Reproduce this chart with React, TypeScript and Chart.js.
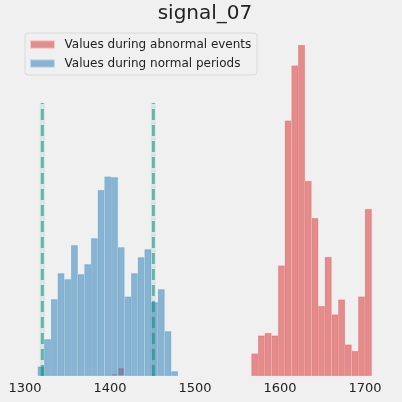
import React, { useEffect, useRef } from "react";
import { Chart, registerables } from "chart.js";

Chart.register(...registerables);

const TITLE = "signal_07";
const LEGEND_LABELS = ["Values during abnormal events", "Values during normal periods"];

// shared histogram bins (50 bins over the combined range)
const BIN_START = 1314.9;
const BIN_WIDTH = 7.858;

const NORMAL_BINS = [0, 1, 2, 3, 4, 5, 6, 7, 8, 9, 10, 11, 12, 13, 14, 15, 16, 17, 18, 19, 20];
const NORMAL_VALUES = [9.3, 36.7, 76.7, 102.7, 96.7, 130.7, 101.7, 111.7, 137.7, 186, 199.3, 198.7, 128.7, 79.3, 102.7, 118.7, 126.7, 73.7, 86.7, 44.7, 4.7];

const ABNORMAL_BINS = [11, 12, 32, 33, 34, 35, 36, 37, 38, 39, 40, 41, 42, 43, 44, 45, 46, 47, 48, 49];
const ABNORMAL_VALUES = [1.7, 7.7, 22.3, 40.3, 43, 40.3, 110.3, 255.3, 310.3, 331, 195, 158, 70, 119, 61.3, 76.3, 31.3, 25, 79.3, 167];

const THRESHOLDS = [1320.4, 1451.0];
const THRESHOLD_TOP = 273;

const X_TICKS = [1300, 1400, 1500, 1600, 1700];
const X_MIN = 1295.3;
const X_MAX = 1728.2;
const Y_MAX = 350;

const RED_FILL = "rgba(214,39,40,0.5)";
const BLUE_FILL = "rgba(31,119,180,0.5)";
const RED_EDGE = "rgba(246,202,202,0.95)";
const BLUE_EDGE = "rgba(200,221,236,0.95)";
const FONT = "'DejaVu Sans', 'Liberation Sans', sans-serif";

const binCenter = (i: number) => BIN_START + (i + 0.5) * BIN_WIDTH;

const legendPlugin = {
  id: "insideLegend",
  afterDraw(chart: any) {
    const ctx: CanvasRenderingContext2D = chart.ctx;
    const x0 = chart.chartArea.left + 4;
    const y0 = chart.chartArea.top + 7;
    const w = 232;
    const h = 42;
    ctx.save();
    ctx.beginPath();
    const r = 3;
    ctx.moveTo(x0 + r, y0);
    ctx.arcTo(x0 + w, y0, x0 + w, y0 + h, r);
    ctx.arcTo(x0 + w, y0 + h, x0, y0 + h, r);
    ctx.arcTo(x0, y0 + h, x0, y0, r);
    ctx.arcTo(x0, y0, x0 + w, y0, r);
    ctx.closePath();
    ctx.fillStyle = "rgba(240,240,240,0.8)";
    ctx.fill();
    ctx.strokeStyle = "rgba(215,215,215,0.9)";
    ctx.lineWidth = 1;
    ctx.stroke();

    const fills = [RED_FILL, BLUE_FILL];
    const edges = [RED_EDGE, BLUE_EDGE];
    const rowsY = [y0 + 11.5, y0 + 30.5];
    ctx.font = "12px " + FONT;
    ctx.textBaseline = "middle";
    ctx.textAlign = "left";
    for (let i = 0; i < 2; i++) {
      ctx.fillStyle = fills[i];
      ctx.fillRect(x0 + 5.5, rowsY[i] - 3.7, 24, 7.4);
      ctx.strokeStyle = edges[i];
      ctx.strokeRect(x0 + 5.5, rowsY[i] - 3.7, 24, 7.4);
      ctx.fillStyle = "#222";
      ctx.fillText(LEGEND_LABELS[i], x0 + 39.5, rowsY[i]);
    }
    ctx.restore();
  },
};

export default function App() {
  const canvasRef = useRef<HTMLCanvasElement | null>(null);

  useEffect(() => {
    document.body.style.margin = "0";
    document.body.style.background = "#f0f0f0";
    const canvas = canvasRef.current;
    if (!canvas) return;

    const thresholdSets: any[] = [];
    THRESHOLDS.forEach((t) => {
      thresholdSets.push({
        type: "line",
        data: [
          { x: t, y: 0 },
          { x: t, y: THRESHOLD_TOP },
        ],
        borderColor: "rgba(0,140,120,0.1)",
        borderWidth: 5,
        pointRadius: 0,
        order: 1,
      });
      thresholdSets.push({
        type: "line",
        data: [
          { x: t, y: 0 },
          { x: t, y: THRESHOLD_TOP },
        ],
        borderColor: "rgba(0,140,120,0.55)",
        borderWidth: 3,
        borderDash: [11, 5],
        borderCapStyle: "butt",
        pointRadius: 0,
        order: 0,
      });
    });

    const barCommon = {
      borderWidth: 0.5,
      borderSkipped: false,
      barPercentage: 1,
      categoryPercentage: 1,
      grouped: false,
    };

    const chart = new Chart(canvas, {
      type: "bar",
      data: {
        datasets: [
          {
            label: LEGEND_LABELS[0],
            data: ABNORMAL_BINS.map((b, i) => ({ x: binCenter(b), y: ABNORMAL_VALUES[i] })),
            backgroundColor: RED_FILL,
            borderColor: RED_EDGE,
            order: 3,
            ...barCommon,
          } as any,
          {
            label: LEGEND_LABELS[1],
            data: NORMAL_BINS.map((b, i) => ({ x: binCenter(b), y: NORMAL_VALUES[i] })),
            backgroundColor: BLUE_FILL,
            borderColor: BLUE_EDGE,
            order: 2,
            ...barCommon,
          } as any,
          ...thresholdSets,
        ],
      },
      options: {
        animation: false,
        responsive: false,
        maintainAspectRatio: false,
        layout: { padding: { left: 21, right: 13, top: 0, bottom: 0 } },
        plugins: {
          legend: { display: false },
          tooltip: { enabled: false },
          title: {
            display: true,
            text: TITLE,
            color: "#222",
            font: { family: FONT, size: 20, weight: "normal" as any, lineHeight: 1.2 },
            padding: { top: 2, bottom: 0 },
          },
        },
        scales: {
          x: {
            type: "linear",
            min: X_MIN,
            max: X_MAX,
            offset: false,
            grid: { display: false, drawTicks: false },
            border: { display: false },
            afterBuildTicks: (scale: any) => {
              scale.ticks = X_TICKS.map((v) => ({ value: v }));
            },
            afterFit: (scale: any) => {
              scale.height = 26;
            },
            ticks: {
              color: "#222",
              padding: 5,
              maxRotation: 0,
              autoSkip: false,
              font: { family: FONT, size: 13 },
              callback: (v: any) => String(v),
            },
          },
          y: {
            display: false,
            min: 0,
            max: Y_MAX,
          },
        },
      },
      plugins: [legendPlugin],
    });

    return () => chart.destroy();
  }, []);

  return (
    <div style={{ width: 402, height: 402, background: "#f0f0f0" }}>
      <canvas ref={canvasRef} width={402} height={402} style={{ display: "block" }} />
    </div>
  );
}
